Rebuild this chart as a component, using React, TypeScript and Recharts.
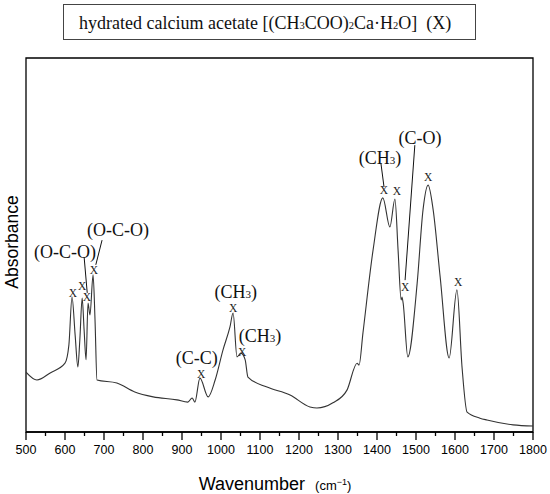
import React from "react";
import {
  ComposedChart,
  Line,
  Scatter,
  XAxis,
  YAxis,
  ReferenceLine,
  ReferenceArea,
} from "recharts";

// spectrum (absorbance in arbitrary units, 0..1 of the frame)
const WAVENUMBER = [
  500, 528, 562, 600, 610, 618, 626, 633, 638, 644, 649, 654, 659, 664, 672, 677,
  682, 733, 779, 826, 887, 915, 926, 933, 946, 967, 985, 1005, 1023, 1031, 1041,
  1051, 1062, 1069, 1118, 1177, 1228, 1246, 1287, 1323, 1349, 1354, 1364, 1390,
  1415, 1433, 1446, 1454, 1462, 1464, 1467, 1479, 1503, 1518, 1531, 1544, 1562,
  1585, 1605, 1618, 1631, 1664, 1682, 1749, 1800,
];
const ABSORBANCE = [
  0.16, 0.139, 0.158, 0.184, 0.233, 0.361, 0.259, 0.174, 0.246, 0.358, 0.273,
  0.193, 0.345, 0.313, 0.42, 0.299, 0.139, 0.131, 0.107, 0.094, 0.086, 0.08,
  0.091, 0.08, 0.144, 0.094, 0.139, 0.219, 0.281, 0.318, 0.201, 0.211, 0.193,
  0.147, 0.12, 0.099, 0.067, 0.064, 0.078, 0.112, 0.184, 0.179, 0.265, 0.487,
  0.626, 0.548, 0.623, 0.487, 0.353, 0.361, 0.345, 0.201, 0.398, 0.594, 0.66,
  0.594, 0.414, 0.198, 0.38, 0.174, 0.053, 0.037, 0.032, 0.019, 0.016,
];

const MAJOR_TICKS = [500, 600, 700, 800, 900, 1000, 1100, 1200, 1300, 1400, 1500, 1600, 1700, 1800];
const MINOR_TICKS = [550, 650, 750, 850, 950, 1050, 1150, 1250, 1350, 1450, 1550, 1650, 1750];

// "x" peak markers
const MARKER_W = [620, 644, 656, 674, 949, 1031, 1054, 1418, 1451, 1472, 1531, 1608];
const MARKER_A = [0.372, 0.39, 0.361, 0.433, 0.155, 0.332, 0.213, 0.647, 0.644, 0.388, 0.682, 0.401];

// band assignments
const LABEL_TEXT = ["(O-C-O)", "(O-C-O)", "(C-C)", "(CH3)", "(CH3)", "(CH3)", "(C-O)"];
const LABEL_W = [600, 736, 938, 1038, 1100, 1408, 1510];
const LABEL_A = [0.481, 0.54, 0.197, 0.374, 0.258, 0.733, 0.786];

// leader lines [w1, a1, w2, a2]
const LEADERS = [
  [649, 0.468, 657, 0.372],
  [695, 0.513, 679, 0.447],
  [1410, 0.719, 1418, 0.655],
  [1497, 0.767, 1472, 0.406],
];

const spectrum = WAVENUMBER.map((w, i) => ({ w, a: ABSORBANCE[i] }));
const markers = MARKER_W.map((w, i) => ({ w, a: MARKER_A[i] }));
const labels = LABEL_TEXT.map((text, i) => ({ w: LABEL_W[i], a: LABEL_A[i], text }));

const SERIF = "'Liberation Serif', 'DejaVu Serif', serif";
const SANS = "'Liberation Sans', Arial, sans-serif";

function Formula({ text }: { text: string }) {
  // digits drawn as small subscripts
  const parts = text.split(/(\d)/).filter((p) => p !== "");
  let shifted = false;
  return (
    <>
      {parts.map((p, i) => {
        if (/\d/.test(p)) {
          shifted = true;
          return (
            <tspan key={i} fontSize={11} dy={2}>
              {p}
            </tspan>
          );
        }
        const dy = shifted ? -2 : 0;
        shifted = false;
        return (
          <tspan key={i} dy={dy}>
            {p}
          </tspan>
        );
      })}
    </>
  );
}

function AxisTick(props: any) {
  const { x, y, payload } = props;
  const major = payload.value % 100 === 0;
  return (
    <g>
      <line x1={x} x2={x} y1={y} y2={y + (major ? 8 : 4)} stroke="#000" strokeWidth={1.3} />
      {major && (
        <text x={x} y={y + 22} textAnchor="middle" fontFamily={SANS} fontSize={12.5} fill="#000">
          {payload.value}
        </text>
      )}
    </g>
  );
}

export default function App() {
  return (
    <div style={{ position: "absolute", left: 0, top: 0, width: 550, height: 494, background: "#fff" }}>
      <div
        style={{
          position: "absolute",
          left: 63,
          top: 4,
          width: 413,
          height: 36,
          border: "1px solid #444",
          fontFamily: SERIF,
          fontSize: 18,
          lineHeight: "36px",
          paddingLeft: 15,
          boxSizing: "border-box",
          whiteSpace: "nowrap",
          color: "#111",
        }}
      >
        hydrated calcium acetate [(CH
        <span style={{ fontSize: 10.5 }}>3</span>COO)
        <span style={{ fontSize: 10.5 }}>2</span>Ca·H
        <span style={{ fontSize: 10.5 }}>2</span>O]&nbsp;&nbsp;(X)
      </div>

      <ComposedChart
        width={550}
        height={494}
        margin={{ top: 58, right: 17, left: 26, bottom: 32 }}
        data={spectrum}
      >
        <XAxis
          dataKey="w"
          type="number"
          domain={[500, 1800]}
          ticks={[...MAJOR_TICKS, ...MINOR_TICKS].sort((p, q) => p - q)}
          interval={0}
          tickSize={0}
          tickMargin={0}
          tickLine={false}
          tick={<AxisTick />}
          axisLine={{ stroke: "#000", strokeWidth: 1.3 }}
          height={30}
          allowDataOverflow
        />
        <YAxis type="number" domain={[0, 1]} hide allowDataOverflow />
        <ReferenceArea x1={500} x2={1800} y1={0} y2={1} fill="none" stroke="#000" strokeWidth={1.3} />
        <Line
          dataKey="a"
          type="monotone"
          stroke="#333"
          strokeWidth={1.1}
          dot={false}
          isAnimationActive={false}
        />
        {LEADERS.map(([w1, a1, w2, a2], i) => (
          <ReferenceLine
            key={i}
            segment={[
              { x: w1, y: a1 },
              { x: w2, y: a2 },
            ]}
            stroke="#111"
            strokeWidth={1}
          />
        ))}
        <Scatter
          data={markers}
          dataKey="a"
          isAnimationActive={false}
          shape={(p: any) => (
            <text
              x={p.cx}
              y={p.cy}
              textAnchor="middle"
              dominantBaseline="central"
              fontFamily={SERIF}
              fontSize={11.5}
              fill="#222"
            >
              X
            </text>
          )}
        />
        <Scatter
          data={labels}
          dataKey="a"
          isAnimationActive={false}
          shape={(p: any) => (
            <text
              x={p.cx}
              y={p.cy}
              textAnchor="middle"
              dominantBaseline="central"
              fontFamily={SERIF}
              fontSize={18}
              fill="#111"
            >
              <Formula text={p.payload.text} />
            </text>
          )}
        />
      </ComposedChart>

      <div
        style={{
          position: "absolute",
          left: 0,
          top: 475,
          width: 550,
          textAlign: "center",
          fontFamily: SANS,
          fontSize: 18,
          lineHeight: "18px",
          color: "#000",
          whiteSpace: "nowrap",
        }}
      >
        Wavenumber&nbsp;&nbsp;
        <span style={{ fontSize: 13 }}>
          (cm<sup style={{ fontSize: 9, lineHeight: 0 }}>−1</sup>)
        </span>
      </div>
      <div style={{ position: "absolute", left: 12, top: 242, width: 0, height: 0 }}>
        <div
          style={{
            position: "absolute",
            left: 0,
            top: 0,
            transform: "translate(-50%, -50%) rotate(-90deg)",
            fontFamily: SANS,
            fontSize: 17.5,
            lineHeight: "20px",
            color: "#000",
            whiteSpace: "nowrap",
          }}
        >
          Absorbance
        </div>
      </div>
    </div>
  );
}
